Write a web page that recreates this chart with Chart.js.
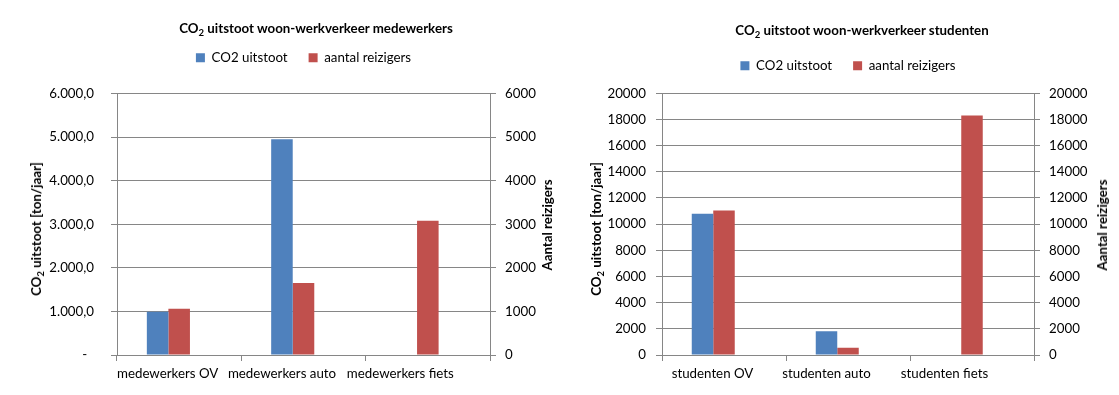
<!DOCTYPE html>
<html><head><meta charset="utf-8">
<script src="https://cdn.jsdelivr.net/npm/chart.js@4"></script>
<style>
html,body{margin:0;padding:0;background:#fff;}
#wrap{position:relative;width:1119px;height:395px;overflow:hidden;font-family:Lato,'Open Sans',sans-serif;color:#000;}
.cv{position:absolute;top:0;height:395px;}
.title{position:absolute;font-weight:bold;font-size:13.3px;white-space:nowrap;transform:translate(-50%,-50%);}
.vt{position:absolute;font-weight:bold;font-size:13.3px;white-space:nowrap;transform:translate(-50%,-50%) rotate(-90deg);}
sub{font-size:0.72em;vertical-align:-0.35em;line-height:0;}
</style></head>
<body><div id="wrap">
<div class="cv" style="left:0;width:560px"><canvas id="c1" width="560" height="395"></canvas></div>
<div class="cv" style="left:560px;width:559px"><canvas id="c2" width="559" height="395"></canvas></div>
<div class="title" style="left:316px;top:28px">CO<sub>2</sub> uitstoot woon-werkverkeer medewerkers</div>
<div class="title" style="left:862px;top:29.5px">CO<sub>2</sub> uitstoot woon-werkverkeer studenten</div>
<div class="vt" style="left:36px;top:229px">CO<sub>2</sub> uitstoot [ton/jaar]</div>
<div class="vt" style="left:547px;top:225px">Aantal reizigers</div>
<div class="vt" style="left:596px;top:229px">CO<sub>2</sub> uitstoot [ton/jaar]</div>
<div class="vt" style="left:1102px;top:225px">Aantal reizigers</div>
</div>
<script>
// ---- data ----
const seriesNames = ['CO2 uitstoot', 'aantal reizigers'];

const medCategories = ['medewerkers OV', 'medewerkers auto', 'medewerkers fiets'];
const medCO2 = [995, 4950, 0];
const medReizigers = [1060, 1650, 3080];
const medLeftTicks = ['-  ', '1.000,0', '2.000,0', '3.000,0', '4.000,0', '5.000,0', '6.000,0'];
const medRightTicks = ['0', '1000', '2000', '3000', '4000', '5000', '6000'];

const stuCategories = ['studenten OV', 'studenten auto', 'studenten fiets'];
const stuCO2 = [10800, 1820, 0];
const stuReizigers = [11050, 560, 18300];
const stuTicks = ['0', '2000', '4000', '6000', '8000', '10000', '12000', '14000', '16000', '18000', '20000'];

// ---- styling ----
const BLUE = '#4F81BD', RED = '#C0504D', GRID = '#868686';
const FONT = {family: "Lato, 'Open Sans', sans-serif", size: 13.3};
const LABEL_SHIFT = [-11.5, -21.5, -27.5];   // horizontal nudge of category labels (layout)

const legendGap = {
  id: 'legendGap',
  beforeInit(chart, args, opts) {
    const lg = chart.legend;
    if (!lg) return;
    const fit = lg.fit;
    lg.fit = function () { fit.call(this); if (this.options.display) this.height += (opts.gap || 0); };
  }
};

const labelShift = {
  id: 'labelShift',
  beforeDraw(chart) {
    const sc = chart.scales.x;
    const items = sc.getLabelItems(chart.chartArea);
    items.forEach((it, i) => {
      if (it._shifted) return;
      it.options.translation[0] += (LABEL_SHIFT[i] || 0);
      it._shifted = true;
    });
  }
};

function makeChart(id, cats, co2, reiz, leftTicks, rightTicks, max, step, L) {
  return new Chart(document.getElementById(id), {
    type: 'bar',
    data: {
      labels: cats,
      datasets: [
        {label: seriesNames[0], data: co2, backgroundColor: BLUE, yAxisID: 'y'},
        {label: seriesNames[1], data: reiz, backgroundColor: RED, yAxisID: 'y1'},
        {label: '', data: cats.map(() => null), backgroundColor: 'rgba(0,0,0,0)', yAxisID: 'y'}
      ]
    },
    options: {
      responsive: false,
      animation: false,
      events: [],
      categoryPercentage: 0.52,
      barPercentage: 1,
      layout: {padding: {top: L.legendTop, left: 0, right: 0, bottom: 0}},
      plugins: {
        title: {display: false},
        tooltip: {enabled: false},
        legendGap: {gap: L.gap},
        legend: {
          position: 'top',
          fullSize: false,
          labels: {
            boxWidth: 9, boxHeight: 9, padding: 21, color: '#000', font: FONT,
            filter: item => item.datasetIndex < 2
          }
        }
      },
      scales: {
        x: {
          grid: {display: true, drawOnChartArea: false, drawTicks: true, tickLength: 6, color: GRID, offset: true},
          border: {display: true, color: GRID},
          ticks: {color: '#000', font: FONT, padding: 5, maxRotation: 0, autoSkip: false},
          afterFit: s => { s.height = L.xHeight; }
        },
        y: {
          position: 'left', min: 0, max: max,
          grid: {color: GRID, tickLength: 6, drawTicks: true},
          border: {display: true, color: GRID},
          ticks: {stepSize: step, color: '#000', font: FONT, padding: L.lPad, callback: (v, i) => leftTicks[i]},
          afterFit: s => { s.width = L.leftW; }
        },
        y1: {
          position: 'right', min: 0, max: max,
          grid: {color: GRID, tickLength: 6, drawTicks: true, drawOnChartArea: false},
          border: {display: true, color: GRID},
          ticks: {stepSize: step, color: '#000', font: FONT, padding: L.rPad, callback: (v, i) => rightTicks[i]},
          afterFit: s => { s.width = L.rightW; }
        }
      }
    },
    plugins: [legendGap, labelShift]
  });
}

makeChart('c1', medCategories, medCO2, medReizigers, medLeftTicks, medRightTicks, 6000, 1000,
  {legendTop: 30, gap: 19.2, xHeight: 40, leftW: 117, rightW: 70, lPad: 17, rPad: 9});
makeChart('c2', stuCategories, stuCO2, stuReizigers, stuTicks, stuTicks, 20000, 2000,
  {legendTop: 38, gap: 11, xHeight: 40, leftW: 102, rightW: 85, lPad: 10, rPad: 9});
</script>
</body></html>
